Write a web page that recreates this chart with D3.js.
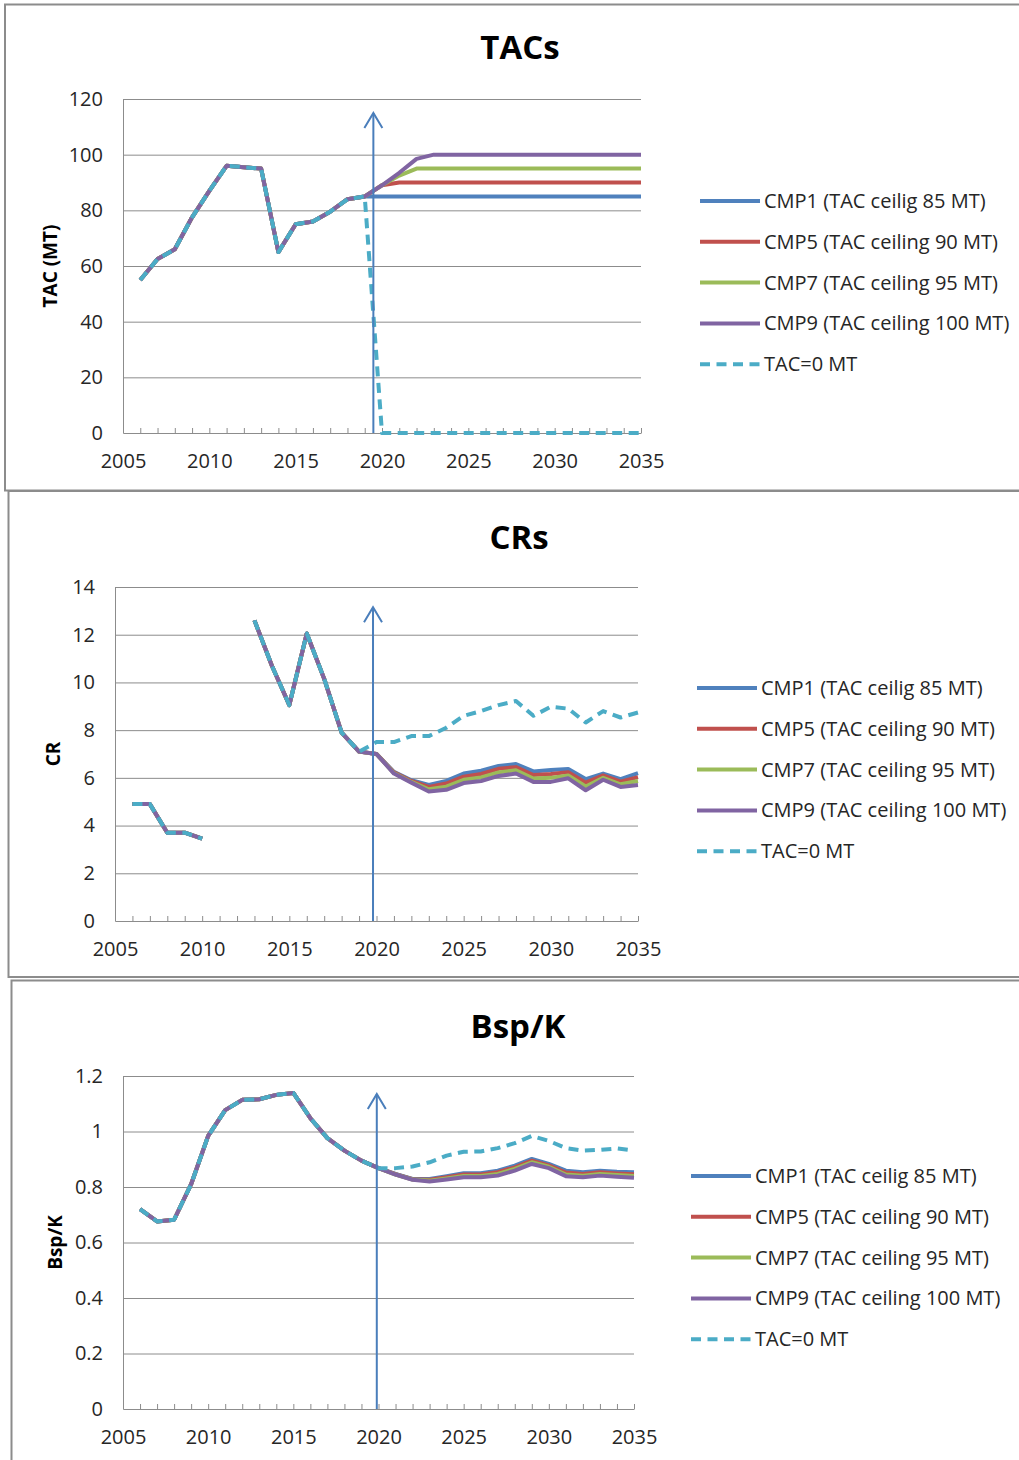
<!DOCTYPE html>
<html>
<head>
<meta charset="utf-8">
<script src="https://cdn.jsdelivr.net/npm/d3@7/dist/d3.min.js"></script>
<style>
  body { margin: 0; background: #fff; }
  svg { display: block; font-family: "Open Sans", sans-serif; }
</style>
</head>
<body>
<div id="chart"></div>
<script>
// ── Data ────────────────────────────────────────────────────────────────
var years = [2006, 2007, 2008, 2009, 2010, 2011, 2012, 2013, 2014, 2015,
             2016, 2017, 2018, 2019, 2020, 2021, 2022, 2023, 2024, 2025,
             2026, 2027, 2028, 2029, 2030, 2031, 2032, 2033, 2034, 2035];
var xLabelYears = [2005, 2010, 2015, 2020, 2025, 2030, 2035];

var seriesNames  = ["CMP1 (TAC ceilig 85 MT)", "CMP5 (TAC ceiling 90 MT)", "CMP7 (TAC ceiling 95 MT)",
                    "CMP9 (TAC ceiling 100 MT)", "TAC=0 MT"];
var seriesColors = ["#4f81bd", "#c0504d", "#9bbb59", "#8064a2", "#4bacc6"];

// TACs (MT): 2006-2019 history, 2020-2035 projections
var tacHist  = [55, 62.5, 66, 77.5, 87, 96, 95.5, 95, 65, 75, 76, 79.5, 84, 85];
var tacCMP1  = [85, 85, 85, 85, 85, 85, 85, 85, 85, 85, 85, 85, 85, 85, 85, 85];
var tacCMP5  = [89, 90, 90, 90, 90, 90, 90, 90, 90, 90, 90, 90, 90, 90, 90, 90];
var tacCMP7  = [89, 92.5, 95, 95, 95, 95, 95, 95, 95, 95, 95, 95, 95, 95, 95, 95];
var tacCMP9  = [89, 93.5, 98.5, 100, 100, 100, 100, 100, 100, 100, 100, 100, 100, 100, 100, 100];
var tacZero  = [0, 0, 0, 0, 0, 0, 0, 0, 0, 0, 0, 0, 0, 0, 0, 0];
var tacTicks = [0, 20, 40, 60, 80, 100, 120];

// CRs (2011-2012 missing)
var crHist  = [4.9, 4.9, 3.7, 3.7, 3.45, null, null, 12.6, 10.7, 9.05, 12.05, 10.15, 7.9, 7.1];
var crCMP1  = [7.0, 6.25, 5.9, 5.7, 5.87, 6.18, 6.3, 6.5, 6.58, 6.27, 6.33, 6.37, 5.95, 6.18, 5.95, 6.2];
var crCMP5  = [7.0, 6.23, 5.87, 5.62, 5.76, 6.05, 6.16, 6.38, 6.45, 6.12, 6.16, 6.24, 5.8, 6.1, 5.84, 6.03];
var crCMP7  = [7.0, 6.2, 5.83, 5.52, 5.63, 5.92, 6.02, 6.23, 6.32, 5.97, 6.0, 6.1, 5.64, 6.0, 5.73, 5.87];
var crCMP9  = [7.0, 6.18, 5.8, 5.43, 5.5, 5.78, 5.87, 6.08, 6.18, 5.83, 5.83, 5.98, 5.48, 5.92, 5.62, 5.7];
var crZero  = [7.5, 7.5, 7.75, 7.75, 8.1, 8.6, 8.8, 9.05, 9.22, 8.6, 8.98, 8.9, 8.32, 8.8, 8.53, 8.74];
var crTicks = [0, 2, 4, 6, 8, 10, 12, 14];

// Bsp/K
var bkHist  = [0.72, 0.676, 0.682, 0.81, 0.984, 1.077, 1.114, 1.116, 1.132, 1.139, 1.048, 0.976, 0.931, 0.895];
var bkCMP1  = [0.868, 0.847, 0.829, 0.829, 0.839, 0.85, 0.85, 0.859, 0.877, 0.901, 0.883, 0.859, 0.853, 0.859, 0.855, 0.853];
var bkCMP5  = [0.868, 0.846, 0.828, 0.826, 0.835, 0.845, 0.845, 0.853, 0.871, 0.895, 0.878, 0.852, 0.847, 0.853, 0.849, 0.846];
var bkCMP7  = [0.868, 0.845, 0.827, 0.823, 0.831, 0.84, 0.84, 0.847, 0.865, 0.889, 0.873, 0.845, 0.841, 0.847, 0.843, 0.84];
var bkCMP9  = [0.868, 0.845, 0.826, 0.82, 0.827, 0.835, 0.835, 0.841, 0.859, 0.883, 0.868, 0.839, 0.835, 0.841, 0.837, 0.833];
var bkZero  = [0.868, 0.868, 0.874, 0.889, 0.913, 0.927, 0.928, 0.94, 0.958, 0.984, 0.966, 0.94, 0.931, 0.934, 0.939, 0.931];
var bkTicks = [0, 0.2, 0.4, 0.6, 0.8, 1, 1.2];

// the "start of projections" arrow in each panel: x year and tip value
var arrowYears = [2019.5, 2019.8, 2019.9];
var arrowTips  = [115, 13.15, 1.135];

// ── Layout ──────────────────────────────────────────────────────────────
var panels = [
  { title: "TACs",  yTitle: "TAC (MT)", hist: tacHist, proj: [tacCMP1, tacCMP5, tacCMP7, tacCMP9, tacZero], ticks: tacTicks,
    box: [5, 4.5, 486], x0: 123, x1: 641, yTop: 99, yBot: 433, titleX: 520, titleY: 59, yTitleX: 50, legX: 700, legY: 201 },
  { title: "CRs",   yTitle: "CR", hist: crHist, proj: [crCMP1, crCMP5, crCMP7, crCMP9, crZero], ticks: crTicks,
    box: [8.5, 491, 486], x0: 115, x1: 638, yTop: 587, yBot: 921, titleX: 519, titleY: 549, yTitleX: 53, legX: 697, legY: 688 },
  { title: "Bsp/K", yTitle: "Bsp/K", hist: bkHist, proj: [bkCMP1, bkCMP5, bkCMP7, bkCMP9, bkZero], ticks: bkTicks,
    box: [11.5, 980.5, 520], x0: 123, x1: 634, yTop: 1076, yBot: 1409, titleX: 518, titleY: 1038, yTitleX: 55, legX: 691, legY: 1176 }
];

var W = 1019, H = 1460;
var svg = d3.select("#chart").append("svg").attr("width", W).attr("height", H);

var gridCol = "#8c8c8c", textCol = "#262626";
var dash = "10,6.5";

panels.forEach(function (p, pi) {
  var g = svg.append("g");

  // frame
  g.append("rect")
    .attr("x", p.box[0]).attr("y", p.box[1])
    .attr("width", W + 20).attr("height", p.box[2])
    .attr("fill", "none").attr("stroke", gridCol).attr("stroke-width", 2);

  var x = d3.scaleLinear().domain([2005, 2035]).range([p.x0, p.x1]);
  var y = d3.scaleLinear().domain([0, d3.max(p.ticks)]).range([p.yBot, p.yTop]);

  // gridlines
  g.selectAll(".grid").data(p.ticks.filter(function (t) { return t > 0; })).enter()
    .append("line")
    .attr("x1", p.x0).attr("x2", p.x1)
    .attr("y1", function (d) { return y(d) + 0.5; }).attr("y2", function (d) { return y(d) + 0.5; })
    .attr("stroke", gridCol).attr("stroke-width", 1);

  // axes
  var gX = g.append("g").attr("transform", "translate(0," + p.yBot + ")")
    .call(d3.axisBottom(x).tickValues(d3.range(2005, 2036))
      .tickSizeInner(-5).tickSizeOuter(0).tickPadding(21)
      .tickFormat(function (d) { return xLabelYears.indexOf(d) >= 0 ? d : ""; }));
  var gY = g.append("g").attr("transform", "translate(" + p.x0 + ",0)")
    .call(d3.axisLeft(y).tickValues(p.ticks).tickSize(0).tickPadding(20)
      .tickFormat(function (d) { return String(+d.toFixed(1)); }));
  [gX, gY].forEach(function (a) {
    a.selectAll("line,path").attr("stroke", gridCol);
    a.selectAll("text").attr("fill", textCol).style("font-size", "20px")
      .style("font-family", "\"Open Sans\", sans-serif");
  });

  // titles
  g.append("text").attr("x", p.titleX).attr("y", p.titleY)
    .attr("text-anchor", "middle").attr("font-weight", "bold").style("font-size", "33px")
    .attr("fill", "#000").text(p.title);
  g.append("text").attr("transform", "rotate(-90)")
    .attr("x", -(p.yTop + p.yBot) / 2).attr("y", p.yTitleX).attr("dy", "0.35em")
    .attr("text-anchor", "middle").attr("font-weight", "bold").style("font-size", "19px")
    .attr("fill", "#000").text(p.yTitle);

  // series
  var line = d3.line()
    .defined(function (d) { return d.v != null; })
    .x(function (d) { return x(d.yr); })
    .y(function (d) { return y(d.v); });

  p.proj.forEach(function (proj, si) {
    var vals = p.hist.concat(proj).map(function (v, i) { return { yr: years[i], v: v }; });
    g.append("path").datum(vals)
      .attr("fill", "none").attr("stroke", seriesColors[si]).attr("stroke-width", 4)
      .attr("stroke-linejoin", "round")
      .attr("stroke-dasharray", si === 4 ? dash : null)
      .attr("d", line);
  });

  // arrow
  var ax = x(arrowYears[pi]), aTop = y(arrowTips[pi]);
  g.append("line").attr("x1", ax).attr("x2", ax).attr("y1", p.yBot).attr("y2", aTop)
    .attr("stroke", "#4a7ebb").attr("stroke-width", 2);
  g.append("path")
    .attr("d", "M" + (ax - 9) + "," + (aTop + 15) + "L" + ax + "," + aTop + "L" + (ax + 9) + "," + (aTop + 15))
    .attr("fill", "none").attr("stroke", "#4a7ebb").attr("stroke-width", 2);

  // legend
  var leg = g.append("g");
  seriesNames.forEach(function (name, si) {
    var ly = p.legY + si * 40.8;
    leg.append("line").attr("x1", p.legX).attr("x2", p.legX + 60).attr("y1", ly).attr("y2", ly)
      .attr("stroke", seriesColors[si]).attr("stroke-width", 4)
      .attr("stroke-dasharray", si === 4 ? dash : null);
    leg.append("text").attr("x", p.legX + 64).attr("y", ly).attr("dy", "0.35em")
      .attr("fill", textCol).style("font-size", "20px").text(name);
  });
});
</script>
</body>
</html>
